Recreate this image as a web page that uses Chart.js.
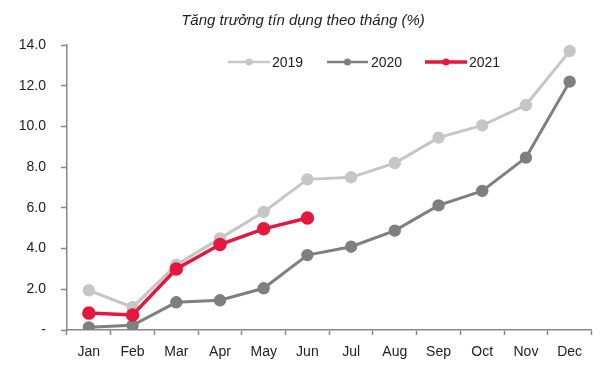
<!DOCTYPE html>
<html>
<head>
<meta charset="utf-8">
<script src="https://cdn.jsdelivr.net/npm/chart.js@4"></script>
<style>
html,body{margin:0;padding:0;background:#fff;}
#wrap{width:600px;height:368px;position:relative;}
</style>
</head>
<body>
<div id="wrap"><canvas id="c" width="600" height="368"></canvas></div>
<script>
const months = ["Jan","Feb","Mar","Apr","May","Jun","Jul","Aug","Sep","Oct","Nov","Dec"];
const y2019 = [1.95, 1.12, 3.2, 4.5, 5.8, 7.4, 7.5, 8.2, 9.45, 10.05, 11.05, 13.7];
const y2020 = [0.13, 0.23, 1.36, 1.46, 2.05, 3.68, 4.09, 4.88, 6.12, 6.83, 8.47, 12.2];
const y2021 = [0.83, 0.74, 3.0, 4.2, 4.97, 5.5];
const yTicks = [0, 2, 4, 6, 8, 10, 12, 14];
const titleText = "Tăng trưởng tín dụng theo tháng (%)";
const seriesNames = ["2019", "2020", "2021"];

const colors = ["#c6c6c6", "#7f7f7f", "#e5173f"];
const FONT = "'Liberation Sans', Arial, sans-serif";

const overlay = {
  id: 'overlay',
  afterDraw(chart) {
    const ctx = chart.ctx;
    ctx.save();
    // title
    ctx.font = "italic 15px " + FONT;
    ctx.fillStyle = "#222";
    ctx.textAlign = "center";
    ctx.textBaseline = "middle";
    ctx.fillText(titleText, 303, 21);
    // legend
    const items = [
      {x: 228, w: 42, tx: 272},
      {x: 327, w: 41, tx: 371},
      {x: 425, w: 42, tx: 469}
    ];
    const ly = 62;
    ctx.font = "14px " + FONT;
    ctx.textAlign = "left";
    items.forEach((it, i) => {
      ctx.strokeStyle = colors[i];
      ctx.fillStyle = colors[i];
      ctx.lineWidth = i === 2 ? 3.5 : 2.5;
      ctx.beginPath();
      ctx.moveTo(it.x, ly);
      ctx.lineTo(it.x + it.w, ly);
      ctx.stroke();
      ctx.beginPath();
      ctx.arc(it.x + it.w / 2, ly, 3.5, 0, Math.PI * 2);
      ctx.fill();
      ctx.fillStyle = "#222";
      ctx.fillText(seriesNames[i], it.tx, ly + 1);
    });
    ctx.restore();
  }
};

new Chart(document.getElementById('c'), {
  type: 'line',
  data: {
    labels: months,
    datasets: [
      {label: seriesNames[0], data: y2019, borderColor: colors[0], backgroundColor: colors[0],
       borderWidth: 3, pointRadius: 4.7, pointHoverRadius: 4.7, order: 3, tension: 0},
      {label: seriesNames[1], data: y2020, borderColor: colors[1], backgroundColor: colors[1],
       borderWidth: 3, pointRadius: 4.7, pointHoverRadius: 4.7, order: 2, tension: 0},
      {label: seriesNames[2], data: y2021, borderColor: colors[2], backgroundColor: colors[2],
       borderWidth: 3.5, pointRadius: 5, pointHoverRadius: 5, order: 1, tension: 0}
    ]
  },
  options: {
    responsive: false,
    animation: false,
    events: [],
    layout: {padding: {top: 45, right: 8, left: 0, bottom: 0}},
    plugins: {
      legend: {display: false},
      title: {display: false},
      tooltip: {enabled: false}
    },
    scales: {
      x: {
        offset: true,
        grid: {offset: true, drawOnChartArea: false, tickLength: 5, color: "#888", tickWidth: 1.5},
        border: {color: "#888", width: 1.5},
        ticks: {font: {family: FONT, size: 14}, color: "#222", padding: 9, maxRotation: 0},
        afterFit(s) { s.height = 38; }
      },
      y: {
        min: 0, max: 14,
        afterBuildTicks(s) { s.ticks = yTicks.map(v => ({value: v})); },
        grid: {drawOnChartArea: false, tickLength: 6, color: "#888", tickWidth: 1.5},
        border: {color: "#888", width: 1.5},
        ticks: {
          font: {family: FONT, size: 14}, color: "#222", padding: 15,
          callback: v => v === 0 ? "-" : v.toFixed(1)
        },
        afterFit(s) { s.width = 67; }
      }
    }
  },
  plugins: [overlay]
});
</script>
</body>
</html>
